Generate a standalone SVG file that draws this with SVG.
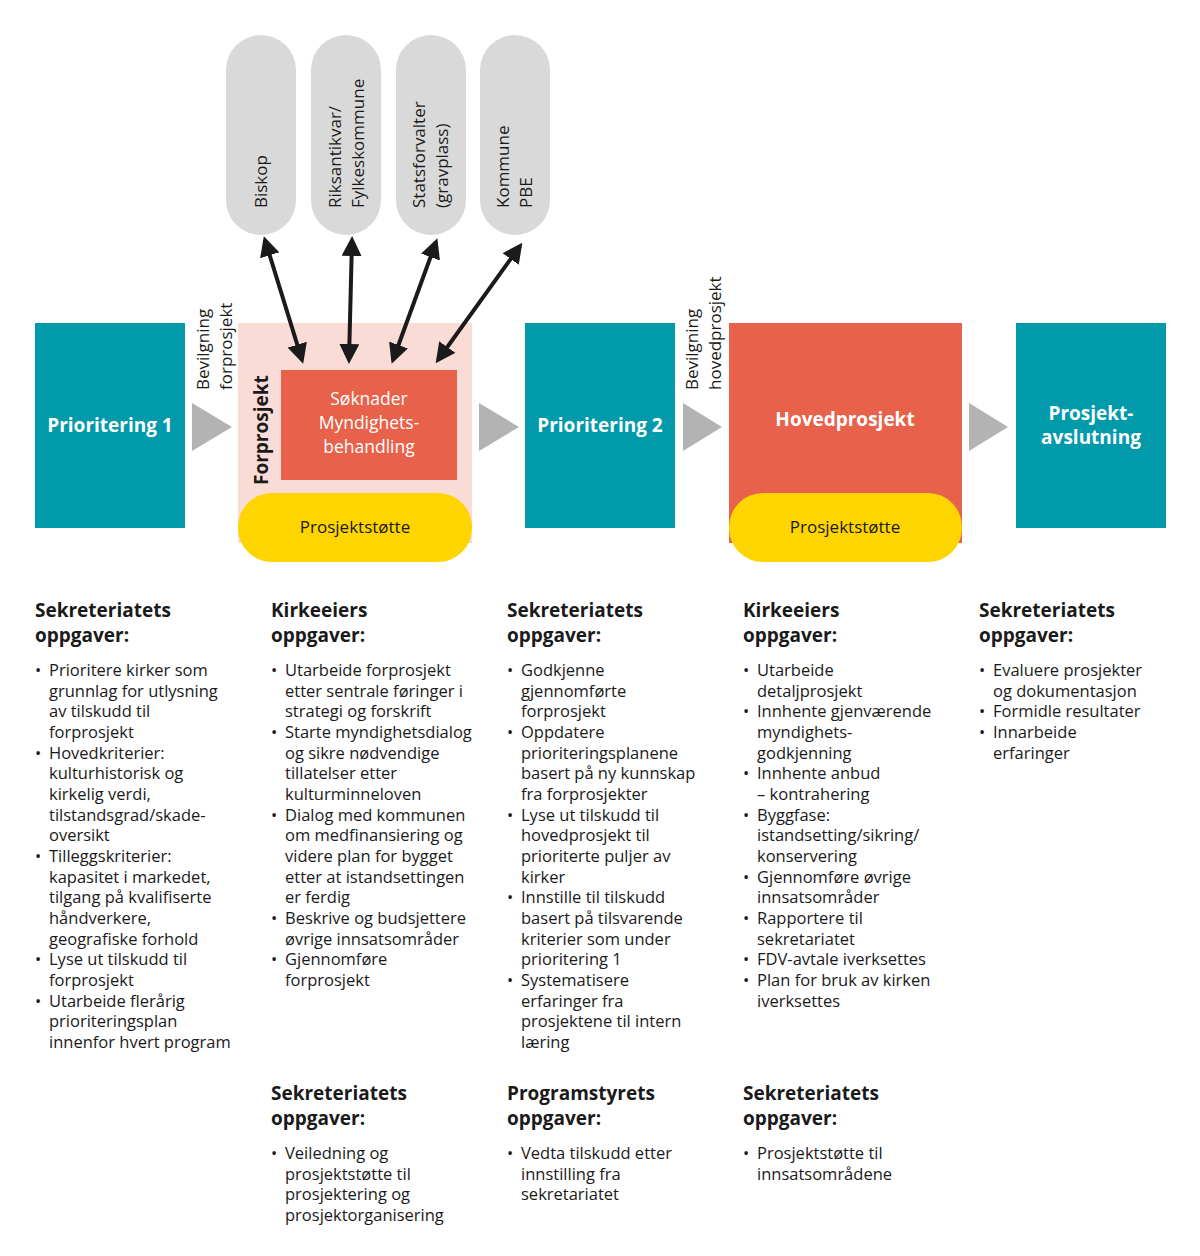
<svg xmlns="http://www.w3.org/2000/svg" width="1200" height="1256" viewBox="0 0 1200 1256">
<style>
text{font-family:"Open Sans","Liberation Sans",sans-serif;fill:#1a1a1a}
.pill{fill:#d9d9d9}
.pt{font-size:17px}
.teal{fill:#009aaa}
.wt{fill:#fff;font-weight:bold;font-size:19px}
.tri{fill:#b3b3b3}
.h{font-weight:bold;font-size:19px}
.b{font-size:16.5px}
.lab{font-size:17px}
</style>
<defs>
<marker id="ah" viewBox="0 0 10 10" refX="8" refY="5" markerWidth="5" markerHeight="5" orient="auto-start-reverse"><path d="M0,0 L10,5 L0,10 z" fill="#1a1a1a"/></marker>
</defs>
<rect width="1200" height="1256" fill="#fff"/>
<g id="biskop"><rect class="pill" x="226" y="35" width="70" height="200" rx="35"/><text class="pt" transform="translate(267,208) rotate(-90)">Biskop</text></g>
<g id="riks"><rect class="pill" x="311" y="35" width="70" height="200" rx="35"/><text class="pt" transform="translate(341,208) rotate(-90)">Riksantikvar/</text><text class="pt" transform="translate(364,208) rotate(-90)">Fylkeskommune</text></g>
<g id="stats"><rect class="pill" x="396" y="35" width="70" height="200" rx="35"/><text class="pt" transform="translate(425,208) rotate(-90)">Statsforvalter</text><text class="pt" transform="translate(448,208) rotate(-90)">(gravplass)</text></g>
<g id="kommune"><rect class="pill" x="480" y="35" width="70" height="200" rx="35"/><text class="pt" transform="translate(509,208) rotate(-90)">Kommune</text><text class="pt" transform="translate(532,208) rotate(-90)">PBE</text></g>

<g id="p1"><rect class="teal" x="35" y="323" width="150" height="205"/><text class="wt" x="110" y="432" text-anchor="middle">Prioritering 1</text></g>
<g id="forprosjekt">
<rect x="238" y="323" width="234" height="220" fill="#fadcd6"/>
<text class="h" font-size="18" transform="translate(268,485) rotate(-90)">Forprosjekt</text>
<rect x="281" y="370" width="176" height="110" fill="#e8614a"/>
<text x="369" y="405" text-anchor="middle" font-size="17.5" fill="#fff" style="fill:#fff">Søknader</text>
<text x="369" y="429" text-anchor="middle" font-size="17.5" style="fill:#fff">Myndighets-</text>
<text x="369" y="453" text-anchor="middle" font-size="17.5" style="fill:#fff">behandling</text>
<rect x="238" y="493" width="234" height="69" rx="34" fill="#ffd500"/>
<text x="355" y="533" text-anchor="middle" font-size="17">Prosjektstøtte</text>
</g>
<g id="p2"><rect class="teal" x="525" y="323" width="150" height="205"/><text class="wt" x="600" y="432" text-anchor="middle">Prioritering 2</text></g>
<g id="hoved"><rect x="729" y="323" width="233" height="220" fill="#e8614a"/><text class="wt" x="845" y="426" text-anchor="middle">Hovedprosjekt</text>
<rect x="729" y="493" width="233" height="69" rx="34" fill="#ffd500"/><text x="845" y="533" text-anchor="middle" font-size="17">Prosjektstøtte</text></g>
<g id="avsl"><rect class="teal" x="1016" y="323" width="150" height="205"/><text class="wt" x="1091" y="420" text-anchor="middle">Prosjekt-</text><text class="wt" x="1091" y="444" text-anchor="middle">avslutning</text></g>

<g id="connectors">
<polygon class="tri" points="192,403 232,427 192,451"/>
<polygon class="tri" points="479,403 519,427 479,451"/>
<polygon class="tri" points="683,403 722,427 683,451"/>
<polygon class="tri" points="969,403 1008,427 969,451"/>
<g stroke="#1a1a1a" stroke-width="4" marker-start="url(#ah)" marker-end="url(#ah)">
<line x1="265" y1="240" x2="302" y2="360"/>
<line x1="352" y1="240" x2="349" y2="360"/>
<line x1="436" y1="242" x2="393" y2="360"/>
<line x1="520" y1="246" x2="438" y2="360"/>
</g>
<text class="lab" transform="translate(209,390) rotate(-90)">Bevilgning</text>
<text class="lab" transform="translate(232,390) rotate(-90)">forprosjekt</text>
<text class="lab" transform="translate(698,390) rotate(-90)">Bevilgning</text>
<text class="lab" transform="translate(721,390) rotate(-90)">hovedprosjekt</text>
</g>

<g id="col1">
<text class="h" x="35" y="617">Sekreteriatets</text><text class="h" x="35" y="642">oppgaver:</text>
<g class="b">
<text x="35" y="676"><tspan>•</tspan><tspan x="49">Prioritere kirker som</tspan><tspan x="49" dy="20.67">grunnlag for utlysning</tspan><tspan x="49" dy="20.67">av tilskudd til</tspan><tspan x="49" dy="20.67">forprosjekt</tspan><tspan x="35" dy="20.67">•</tspan><tspan x="49">Hovedkriterier:</tspan><tspan x="49" dy="20.67">kulturhistorisk og</tspan><tspan x="49" dy="20.67">kirkelig verdi,</tspan><tspan x="49" dy="20.67">tilstandsgrad/skade-</tspan><tspan x="49" dy="20.67">oversikt</tspan><tspan x="35" dy="20.67">•</tspan><tspan x="49">Tilleggskriterier:</tspan><tspan x="49" dy="20.67">kapasitet i markedet,</tspan><tspan x="49" dy="20.67">tilgang på kvalifiserte</tspan><tspan x="49" dy="20.67">håndverkere,</tspan><tspan x="49" dy="20.67">geografiske forhold</tspan><tspan x="35" dy="20.67">•</tspan><tspan x="49">Lyse ut tilskudd til</tspan><tspan x="49" dy="20.67">forprosjekt</tspan><tspan x="35" dy="20.67">•</tspan><tspan x="49">Utarbeide flerårig</tspan><tspan x="49" dy="20.67">prioriteringsplan</tspan><tspan x="49" dy="20.67">innenfor hvert program</tspan></text>
</g></g>

<g id="col2">
<text class="h" x="271" y="617">Kirkeeiers</text><text class="h" x="271" y="642">oppgaver:</text>
<text class="b" x="271" y="676"><tspan>•</tspan><tspan x="285">Utarbeide forprosjekt</tspan><tspan x="285" dy="20.67">etter sentrale føringer i</tspan><tspan x="285" dy="20.67">strategi og forskrift</tspan><tspan x="271" dy="20.67">•</tspan><tspan x="285">Starte myndighetsdialog</tspan><tspan x="285" dy="20.67">og sikre nødvendige</tspan><tspan x="285" dy="20.67">tillatelser etter</tspan><tspan x="285" dy="20.67">kulturminneloven</tspan><tspan x="271" dy="20.67">•</tspan><tspan x="285">Dialog med kommunen</tspan><tspan x="285" dy="20.67">om medfinansiering og</tspan><tspan x="285" dy="20.67">videre plan for bygget</tspan><tspan x="285" dy="20.67">etter at istandsettingen</tspan><tspan x="285" dy="20.67">er ferdig</tspan><tspan x="271" dy="20.67">•</tspan><tspan x="285">Beskrive og budsjettere</tspan><tspan x="285" dy="20.67">øvrige innsatsområder</tspan><tspan x="271" dy="20.67">•</tspan><tspan x="285">Gjennomføre</tspan><tspan x="285" dy="20.67">forprosjekt</tspan></text>
<text class="h" x="271" y="1100">Sekreteriatets</text><text class="h" x="271" y="1125">oppgaver:</text>
<text class="b" x="271" y="1159"><tspan>•</tspan><tspan x="285">Veiledning og</tspan><tspan x="285" dy="20.67">prosjektstøtte til</tspan><tspan x="285" dy="20.67">prosjektering og</tspan><tspan x="285" dy="20.67">prosjektorganisering</tspan></text>
</g>

<g id="col3">
<text class="h" x="507" y="617">Sekreteriatets</text><text class="h" x="507" y="642">oppgaver:</text>
<text class="b" x="507" y="676"><tspan>•</tspan><tspan x="521">Godkjenne</tspan><tspan x="521" dy="20.67">gjennomførte</tspan><tspan x="521" dy="20.67">forprosjekt</tspan><tspan x="507" dy="20.67">•</tspan><tspan x="521">Oppdatere</tspan><tspan x="521" dy="20.67">prioriteringsplanene</tspan><tspan x="521" dy="20.67">basert på ny kunnskap</tspan><tspan x="521" dy="20.67">fra forprosjekter</tspan><tspan x="507" dy="20.67">•</tspan><tspan x="521">Lyse ut tilskudd til</tspan><tspan x="521" dy="20.67">hovedprosjekt til</tspan><tspan x="521" dy="20.67">prioriterte puljer av</tspan><tspan x="521" dy="20.67">kirker</tspan><tspan x="507" dy="20.67">•</tspan><tspan x="521">Innstille til tilskudd</tspan><tspan x="521" dy="20.67">basert på tilsvarende</tspan><tspan x="521" dy="20.67">kriterier som under</tspan><tspan x="521" dy="20.67">prioritering 1</tspan><tspan x="507" dy="20.67">•</tspan><tspan x="521">Systematisere</tspan><tspan x="521" dy="20.67">erfaringer fra</tspan><tspan x="521" dy="20.67">prosjektene til intern</tspan><tspan x="521" dy="20.67">læring</tspan></text>
<text class="h" x="507" y="1100">Programstyrets</text><text class="h" x="507" y="1125">oppgaver:</text>
<text class="b" x="507" y="1159"><tspan>•</tspan><tspan x="521">Vedta tilskudd etter</tspan><tspan x="521" dy="20.67">innstilling fra</tspan><tspan x="521" dy="20.67">sekretariatet</tspan></text>
</g>

<g id="col4">
<text class="h" x="743" y="617">Kirkeeiers</text><text class="h" x="743" y="642">oppgaver:</text>
<text class="b" x="743" y="676"><tspan>•</tspan><tspan x="757">Utarbeide</tspan><tspan x="757" dy="20.67">detaljprosjekt</tspan><tspan x="743" dy="20.67">•</tspan><tspan x="757">Innhente gjenværende</tspan><tspan x="757" dy="20.67">myndighets-</tspan><tspan x="757" dy="20.67">godkjenning</tspan><tspan x="743" dy="20.67">•</tspan><tspan x="757">Innhente anbud</tspan><tspan x="757" dy="20.67">– kontrahering</tspan><tspan x="743" dy="20.67">•</tspan><tspan x="757">Byggfase:</tspan><tspan x="757" dy="20.67">istandsetting/sikring/</tspan><tspan x="757" dy="20.67">konservering</tspan><tspan x="743" dy="20.67">•</tspan><tspan x="757">Gjennomføre øvrige</tspan><tspan x="757" dy="20.67">innsatsområder</tspan><tspan x="743" dy="20.67">•</tspan><tspan x="757">Rapportere til</tspan><tspan x="757" dy="20.67">sekretariatet</tspan><tspan x="743" dy="20.67">•</tspan><tspan x="757">FDV-avtale iverksettes</tspan><tspan x="743" dy="20.67">•</tspan><tspan x="757">Plan for bruk av kirken</tspan><tspan x="757" dy="20.67">iverksettes</tspan></text>
<text class="h" x="743" y="1100">Sekreteriatets</text><text class="h" x="743" y="1125">oppgaver:</text>
<text class="b" x="743" y="1159"><tspan>•</tspan><tspan x="757">Prosjektstøtte til</tspan><tspan x="757" dy="20.67">innsatsområdene</tspan></text>
</g>

<g id="col5">
<text class="h" x="979" y="617">Sekreteriatets</text><text class="h" x="979" y="642">oppgaver:</text>
<text class="b" x="979" y="676"><tspan>•</tspan><tspan x="993">Evaluere prosjekter</tspan><tspan x="993" dy="20.67">og dokumentasjon</tspan><tspan x="979" dy="20.67">•</tspan><tspan x="993">Formidle resultater</tspan><tspan x="979" dy="20.67">•</tspan><tspan x="993">Innarbeide</tspan><tspan x="993" dy="20.67">erfaringer</tspan></text>
</g>
</svg>
